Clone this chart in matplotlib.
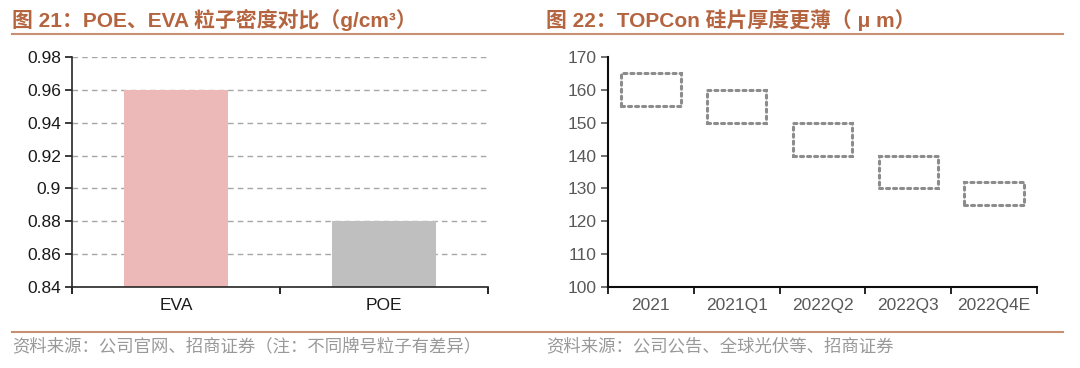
import matplotlib
matplotlib.use("Agg")
import matplotlib.pyplot as plt
from matplotlib.lines import Line2D

LATIN = ['Liberation Sans', 'Noto Sans CJK SC', 'DejaVu Sans']
plt.rcParams['font.family'] = LATIN

# data
density_labels = ["EVA", "POE"]
density_values = [0.96, 0.88]
density_colors = ["#EDB8B8", "#BFBFBF"]

wafer_labels = ["2021", "2021Q1", "2022Q2", "2022Q3", "2022Q4E"]
wafer_low = [155, 150, 140, 130, 125]
wafer_high = [165, 160, 150, 140, 132]

title_color = "#B4653F"
rule_color = "#C98F73"

fig = plt.figure(figsize=(10.8, 3.68), dpi=100)

# left: density bars
ax1 = fig.add_axes([72/1080, 1-287/368, 416/1080, 230/368])
x1 = range(len(density_labels))
ax1.bar(x1, [v - 0.84 for v in density_values], bottom=0.84, width=0.5,
        color=density_colors, zorder=2)
ax1.set_ylim(0.84, 0.98)
ax1.set_xlim(-0.5, 1.5)
ax1.set_yticks([0.84, 0.86, 0.88, 0.9, 0.92, 0.94, 0.96, 0.98])
ax1.set_yticklabels(["0.84", "0.86", "0.88", "0.9", "0.92", "0.94", "0.96", "0.98"])
ax1.set_xticks([-0.5, 0.5, 1.5], minor=False)
ax1.set_xticklabels(["", "", ""])
ax1.set_xticks(list(x1), minor=True)
ax1.set_xticklabels(density_labels, minor=True)
ax1.tick_params(axis="x", which="minor", length=0, pad=8, labelsize=12.5, colors="#1A1A1A")
ax1.tick_params(axis="x", which="major", length=5, width=1.2, direction="out")
ax1.tick_params(axis="y", length=5, width=1.2, labelsize=12.5, colors="#1A1A1A", pad=3)
ax1.yaxis.grid(True, linestyle=(0, (4, 3)), color="#A6A6A6", linewidth=1, zorder=0)
for s in ["top", "right"]:
    ax1.spines[s].set_visible(False)
for s in ["left", "bottom"]:
    ax1.spines[s].set_linewidth(1.2)
    ax1.spines[s].set_color("#262626")

# right: wafer thickness ranges
ax2 = fig.add_axes([608/1080, 1-287/368, 429/1080, 230/368])
x2 = range(len(wafer_labels))
ax2.bar(x2, [h - l for l, h in zip(wafer_low, wafer_high)], bottom=wafer_low,
        width=0.69, facecolor="none", edgecolor="#8C8C8C", linewidth=2.2,
        linestyle=(0, (1, 1.3)), capstyle="round", zorder=2)
ax2.set_ylim(100, 170)
ax2.set_xlim(-0.5, len(wafer_labels) - 0.5)
ax2.set_yticks(range(100, 171, 10))
ax2.set_xticks([i - 0.5 for i in range(len(wafer_labels) + 1)])
ax2.set_xticklabels([""] * (len(wafer_labels) + 1))
ax2.set_xticks(list(x2), minor=True)
ax2.set_xticklabels(wafer_labels, minor=True)
ax2.tick_params(axis="x", which="minor", length=0, pad=8, labelsize=12.5, colors="#595959")
ax2.tick_params(axis="x", which="major", length=5, width=1.2)
ax2.tick_params(axis="y", length=5, width=1.2, labelsize=12.5, colors="#595959", pad=3)
for s in ["top", "right"]:
    ax2.spines[s].set_visible(False)
for s in ["left", "bottom"]:
    ax2.spines[s].set_linewidth(1.5)
    ax2.spines[s].set_color("#0D0D0D")

# titles and rules
fig.text(12/1080, 1-20/368, "图 21：POE、EVA 粒子密度对比（g/cm³）", fontsize=15,
         fontweight="bold", color=title_color, va="center", ha="left")
fig.text(546/1080, 1-20/368, "图 22：TOPCon 硅片厚度更薄（ μ m）", fontsize=15,
         fontweight="bold", color=title_color, va="center", ha="left")
for y in (34, 332):
    fig.add_artist(Line2D([12/1080, 1063/1080], [1-y/368, 1-y/368],
                          color=rule_color, linewidth=1.5))

fig.text(12/1080, 1-346/368, "资料来源：公司官网、招商证券（注：不同牌号粒子有差异）",
         fontsize=12.5, color="#999999", va="center", ha="left",
         family=['Noto Sans CJK SC', 'DejaVu Sans'])
fig.text(546/1080, 1-346/368, "资料来源：公司公告、全球光伏等、招商证券",
         fontsize=12.5, color="#999999", va="center", ha="left",
         family=['Noto Sans CJK SC', 'DejaVu Sans'])

fig.savefig("out.png", dpi=100, facecolor="white")
